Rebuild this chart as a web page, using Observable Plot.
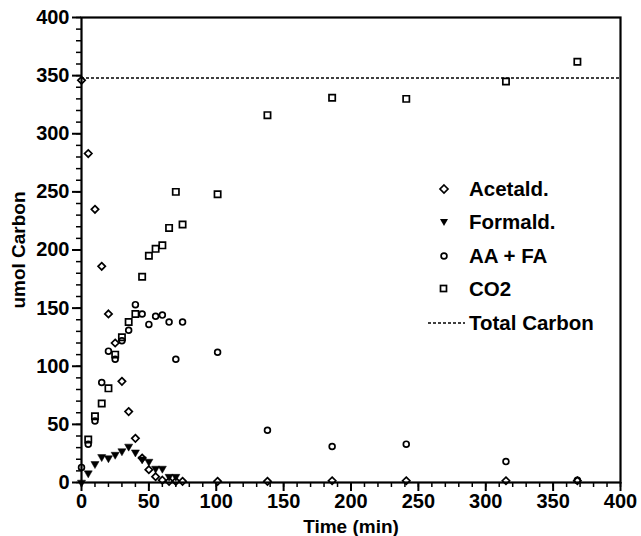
<!DOCTYPE html>
<html><head><meta charset="utf-8">
<script src="https://cdn.jsdelivr.net/npm/d3@7"></script>
<script src="https://cdn.jsdelivr.net/npm/@observablehq/plot@0.6"></script>
<style>
body{margin:0;background:#fff;}
#wrap{position:relative;width:641px;height:536px;font-family:"Liberation Sans",Arial,sans-serif;font-weight:bold;}
#legend{position:absolute;left:425px;top:172px;font-size:20.5px;color:#000;}
#legend .row{height:33.5px;display:flex;align-items:center;}
#legend svg{width:42px;height:20px;margin-right:2px;}
</style></head><body><div id="wrap"></div>
<script>
// Acetaldehyde (umol C) vs time (min)
const acetaldTime = [0, 5, 10, 15, 20, 25, 30, 35, 40, 45, 50, 55, 60, 65, 70, 75, 101, 138, 186, 241, 315, 368];
const acetaldVal  = [346, 283, 235, 186, 145, 120, 87, 61, 38, 21, 11, 5, 2, 1, 1, 1, 1, 1, 1.5, 1.5, 1.5, 1.5];
// Formaldehyde
const formaldTime = [0, 5, 10, 15, 20, 25, 30, 35, 40, 45, 50, 55, 60, 65, 70];
const formaldVal  = [0, 8, 16, 22, 21, 24, 27, 31, 26, 20, 18, 12, 12, 5, 5];
// Acetic + formic acid
const acidTime = [0, 5, 10, 15, 20, 25, 30, 35, 40, 45, 50, 55, 60, 65, 70, 75, 101, 138, 186, 241, 315, 368];
const acidVal  = [13, 33, 53, 86, 113, 106, 122, 131, 153, 145, 136, 143, 144, 138, 106, 138, 112, 45, 31, 33, 18, 2];
// CO2
const co2Time = [5, 10, 15, 20, 25, 30, 35, 40, 45, 50, 55, 60, 65, 70, 75, 101, 138, 186, 241, 315, 368];
const co2Val  = [37, 57, 68, 81, 110, 125, 138, 145, 177, 195, 201, 204, 219, 250, 222, 248, 316, 331, 330, 345, 362];
// Total carbon
const totalCarbon = 348;
const seriesNames = ["Acetald.", "Formald.", "AA + FA", "CO2", "Total Carbon"];
const xTicks = [0, 50, 100, 150, 200, 250, 300, 350, 400];
const yTicks = [0, 50, 100, 150, 200, 250, 300, 350, 400];
const xMinor = d3.range(0, 401, 10);
const yMinor = d3.range(0, 401, 10);

const toRows = (t, v) => t.map((d, i) => ({t: d, v: v[i]}));
const acetald = toRows(acetaldTime, acetaldVal);
const formald = toRows(formaldTime, formaldVal);
const acid = toRows(acidTime, acidVal);
const co2 = toRows(co2Time, co2Val);

const triangleDown = {draw(ctx, size){
  const y = Math.sqrt(size / (3 * Math.sqrt(3)));
  ctx.moveTo(0, 2 * y); ctx.lineTo(-Math.sqrt(3) * y, -y); ctx.lineTo(Math.sqrt(3) * y, -y); ctx.closePath();
}};

const chart = Plot.plot({
  width: 641, height: 536,
  marginLeft: 81, marginRight: 21, marginTop: 17, marginBottom: 54,
  x: {domain: [0, 400]},
  y: {domain: [0, 400]},
  style: {fontFamily: '"Liberation Sans", Arial, sans-serif', fontWeight: "bold", fontSize: "20px", color: "black", background: "white", overflow: "visible"},
  marks: [
    Plot.axisX(xMinor, {tickSize: 5, text: null, label: null, stroke: "black", strokeWidth: 1.5}),
    Plot.axisX(xTicks, {tickSize: 9, tickPadding: 2, fontSize: 20, label: null, stroke: "black", strokeWidth: 2}),
    Plot.axisX({ticks: [], label: "Time (min)", labelAnchor: "center", labelArrow: "none", labelOffset: 50, fontSize: 19}),
    Plot.axisY(yMinor, {tickSize: 5, text: null, label: null, stroke: "black", strokeWidth: 1.5}),
    Plot.axisY(yTicks, {tickSize: 9, tickPadding: 3, fontSize: 20, label: null, stroke: "black", strokeWidth: 2}),
    Plot.axisY({ticks: [], label: "umol Carbon", labelAnchor: "center", labelArrow: "none", labelOffset: 70, fontSize: 19}),
    Plot.frame({strokeWidth: 2.2}),
    Plot.ruleY([totalCarbon], {strokeDasharray: "3,2", strokeWidth: 1.6}),
    Plot.dot(co2, {x: "t", y: "v", symbol: "square2", r: 4, stroke: "black", strokeWidth: 1.7}),
    Plot.dot(acid, {x: "t", y: "v", symbol: "circle", r: 2.9, stroke: "black", strokeWidth: 1.7}),
    Plot.dot(acetald, {x: "t", y: "v", symbol: "diamond2", r: 3.3, stroke: "black", strokeWidth: 1.7}),
    Plot.dot(formald, {x: "t", y: "v", symbol: triangleDown, r: 3, fill: "black", stroke: "black", strokeWidth: 0.5})
  ]
});

const wrap = document.getElementById("wrap");
wrap.appendChild(chart);

// legend
const legend = document.createElement("div");
legend.id = "legend";
const icons = [
  '<path d="M19,6 L23,10 L19,14 L15,10 Z" fill="none" stroke="black" stroke-width="1.7"/>',
  '<path d="M15,7 L23,7 L19,14 Z" fill="black"/>',
  '<circle cx="19" cy="10" r="2.9" fill="none" stroke="black" stroke-width="1.7"/>',
  '<rect x="15.5" y="6.5" width="6" height="6" fill="none" stroke="black" stroke-width="1.7"/>',
  '<line x1="3" y1="10" x2="40" y2="10" stroke="black" stroke-width="1.6" stroke-dasharray="3,2"/>'
];
seriesNames.forEach((name, i) => {
  const row = document.createElement("div");
  row.className = "row";
  row.innerHTML = `<svg viewBox="0 0 42 20">${icons[i]}</svg><span>${name}</span>`;
  legend.appendChild(row);
});
wrap.appendChild(legend);
</script>
</body></html>
